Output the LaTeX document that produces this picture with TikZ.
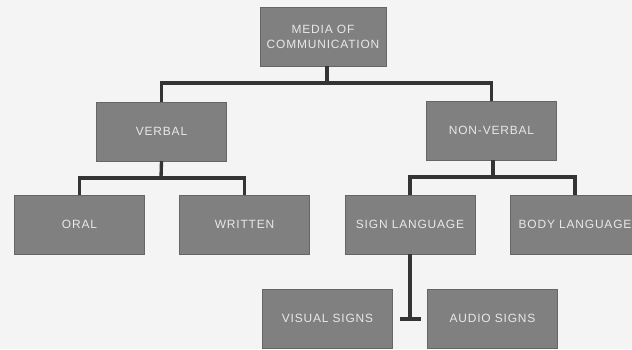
\documentclass[tikz,border=0pt]{standalone}
\usepackage{fontspec}
\usepackage{xcolor}
\newfontfamily\boxfont[LetterSpace=7]{Liberation Sans}

\definecolor{boxgray}{RGB}{128,128,128}
\definecolor{linegray}{RGB}{52,52,52}
\definecolor{papergray}{RGB}{244,244,244}

\begin{document}
\begin{tikzpicture}[x=0.02cm, y=-0.02cm,
		mediabox/.style={
			rectangle,
			fill=boxgray,
			draw=boxgray!80!black,
			line width=0.4pt,
			minimum width=2.6cm,
			minimum height=1.18cm,
			inner sep=1pt,
			outer sep=0pt,
			align=center,
			text=white!82!gray,
			font=\boxfont\fontsize{6.8}{8.2}\selectfont},
		link/.style={
			draw=linegray,
			line width=1.9pt}]
				%\draw[help lines] (0,0) grid[step=20] (632,349);
				\useasboundingbox (0,0) rectangle (632,349);
				\clip (0,0) rectangle (632,349);
				\fill[papergray] (0,0) rectangle (632,349);
				
				\node[mediabox, minimum width=2.52cm] (media) at (323,37) {MEDIA OF\\COMMUNICATION};
				
				\node[mediabox] (verbal)    at (161.5,131.5) {VERBAL};
				\node[mediabox] (nonverbal) at (491.5,130.5) {NON-VERBAL};
				
				\node[mediabox] (oral)    at (79.5,224.5)  {ORAL};
				\node[mediabox] (written) at (244.5,224.5) {WRITTEN};
				\node[mediabox] (sign)    at (410,224.5)   {SIGN LANGUAGE};
				\node[mediabox] (body)    at (575,224.5)   {BODY LANGUAGE};
				
				\node[mediabox] (visual) at (327.5,318.5) {VISUAL SIGNS};
				\node[mediabox] (audio)  at (492.5,318.5) {AUDIO SIGNS};
				
				% branching bars
				\coordinate (mediabar)  at (327,83);
				\coordinate (verbalbar) at (161,178);
				\coordinate (nonbar)    at (493,177);
				\coordinate (signend)   at (410,319);
				
				\draw[link] (media.south -| mediabar) -- (mediabar);
				\draw[link] (verbal.north) |- (mediabar) -| (nonverbal.north);
				
				\draw[link] (verbal.south) -- (verbalbar);
				\draw[link] (oral.north) |- (verbalbar) -| (written.north);
				
				\draw[link] (nonverbal.south -| nonbar) -- (nonbar);
				\draw[link] (sign.north) |- (nonbar) -| (body.north);
				
				\draw[link] (sign.south) -- (signend);
				\draw[link] ([xshift=-0.2cm]signend) -- ([xshift=0.22cm]signend);
			\end{tikzpicture}
\end{document}
